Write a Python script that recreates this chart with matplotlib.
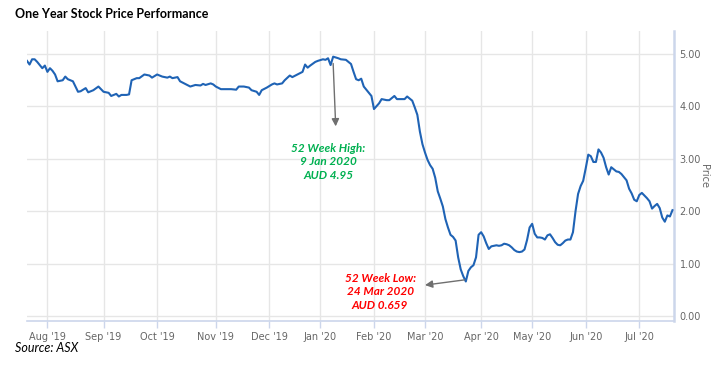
import numpy as np
import pandas as pd
import matplotlib.pyplot as plt

# ASX trading holidays inside the window (the x axis is ordinal: trading days only)
asx_holidays = ['2019-12-25', '2019-12-26', '2020-01-01', '2020-01-27',
                '2020-04-10', '2020-04-13', '2020-06-08']

dates = [
    '2019-07-22', '2019-07-23', '2019-07-24', '2019-07-25', '2019-07-26', '2019-07-29',
    '2019-07-30', '2019-07-31', '2019-08-01', '2019-08-02', '2019-08-05', '2019-08-06',
    '2019-08-07', '2019-08-09', '2019-08-12', '2019-08-13', '2019-08-15', '2019-08-16',
    '2019-08-19', '2019-08-20', '2019-08-22', '2019-08-23', '2019-08-27', '2019-08-29',
    '2019-08-30', '2019-09-02', '2019-09-04', '2019-09-05', '2019-09-09', '2019-09-10',
    '2019-09-11', '2019-09-13', '2019-09-16', '2019-09-17', '2019-09-19', '2019-09-20',
    '2019-09-24', '2019-09-26', '2019-09-27', '2019-10-01', '2019-10-03', '2019-10-07',
    '2019-10-08', '2019-10-09', '2019-10-11', '2019-10-14', '2019-10-16', '2019-10-18',
    '2019-10-22', '2019-10-24', '2019-10-25', '2019-10-28', '2019-10-30', '2019-10-31',
    '2019-11-01', '2019-11-05', '2019-11-07', '2019-11-11', '2019-11-13', '2019-11-14',
    '2019-11-18', '2019-11-20', '2019-11-21', '2019-11-25', '2019-11-26', '2019-11-27',
    '2019-11-29', '2019-12-03', '2019-12-04', '2019-12-05', '2019-12-09', '2019-12-10',
    '2019-12-12', '2019-12-13', '2019-12-17', '2019-12-19', '2019-12-20', '2019-12-23',
    '2019-12-24', '2019-12-30', '2019-12-31', '2020-01-03', '2020-01-06', '2020-01-07',
    '2020-01-08', '2020-01-09', '2020-01-13', '2020-01-14', '2020-01-16', '2020-01-20',
    '2020-01-21', '2020-01-22', '2020-01-23', '2020-01-24', '2020-01-28', '2020-01-30',
    '2020-01-31', '2020-02-03', '2020-02-05', '2020-02-06', '2020-02-10', '2020-02-11',
    '2020-02-13', '2020-02-14', '2020-02-17', '2020-02-19', '2020-02-20', '2020-02-24',
    '2020-02-25', '2020-02-26', '2020-02-27', '2020-02-28', '2020-03-02', '2020-03-03',
    '2020-03-04', '2020-03-05', '2020-03-06', '2020-03-09', '2020-03-10', '2020-03-11',
    '2020-03-12', '2020-03-13', '2020-03-16', '2020-03-17', '2020-03-18', '2020-03-19',
    '2020-03-20', '2020-03-23', '2020-03-24', '2020-03-25', '2020-03-26', '2020-03-27',
    '2020-03-30', '2020-03-31', '2020-04-01', '2020-04-02', '2020-04-03', '2020-04-06',
    '2020-04-07', '2020-04-08', '2020-04-09', '2020-04-14', '2020-04-15', '2020-04-16',
    '2020-04-17', '2020-04-20', '2020-04-21', '2020-04-22', '2020-04-23', '2020-04-24',
    '2020-04-27', '2020-04-28', '2020-04-29', '2020-04-30', '2020-05-01', '2020-05-04',
    '2020-05-05', '2020-05-06', '2020-05-07', '2020-05-08', '2020-05-11', '2020-05-12',
    '2020-05-13', '2020-05-14', '2020-05-15', '2020-05-18', '2020-05-19', '2020-05-20',
    '2020-05-21', '2020-05-22', '2020-05-25', '2020-05-26', '2020-05-27', '2020-05-28',
    '2020-05-29', '2020-06-01', '2020-06-02', '2020-06-03', '2020-06-04', '2020-06-05',
    '2020-06-09', '2020-06-10', '2020-06-11', '2020-06-12', '2020-06-15', '2020-06-16',
    '2020-06-17', '2020-06-18', '2020-06-19', '2020-06-22', '2020-06-23', '2020-06-24',
    '2020-06-25', '2020-06-26', '2020-06-29', '2020-06-30', '2020-07-01', '2020-07-02',
    '2020-07-03', '2020-07-06', '2020-07-07', '2020-07-08', '2020-07-09', '2020-07-10',
    '2020-07-13', '2020-07-14', '2020-07-15', '2020-07-16', '2020-07-17', '2020-07-20',
]

prices = [
    4.87, 4.80, 4.90, 4.90, 4.85, 4.79,
    4.73, 4.78, 4.66, 4.73, 4.68, 4.61,
    4.48, 4.50, 4.57, 4.52, 4.48, 4.38,
    4.28, 4.29, 4.35, 4.27, 4.31, 4.38,
    4.33, 4.28, 4.26, 4.20, 4.24, 4.19,
    4.22, 4.22, 4.23, 4.50, 4.54, 4.54,
    4.61, 4.59, 4.55, 4.61, 4.57, 4.55,
    4.57, 4.54, 4.56, 4.48, 4.43, 4.38,
    4.41, 4.40, 4.43, 4.41, 4.44, 4.42,
    4.38, 4.33, 4.33, 4.33, 4.32, 4.38,
    4.38, 4.36, 4.31, 4.28, 4.22, 4.31,
    4.36, 4.42, 4.44, 4.42, 4.44, 4.50,
    4.59, 4.56, 4.61, 4.66, 4.80, 4.74,
    4.78, 4.85, 4.87, 4.90, 4.89, 4.92,
    4.79, 4.95, 4.92, 4.90, 4.89, 4.81,
    4.66, 4.52, 4.50, 4.53, 4.38, 4.26,
    4.20, 3.95, 4.06, 4.14, 4.12, 4.12,
    4.20, 4.14, 4.14, 4.14, 4.19, 4.11,
    3.98, 3.84, 3.52, 3.28, 3.12, 2.98,
    2.88, 2.81, 2.64, 2.38, 2.24, 2.09,
    1.85, 1.69, 1.55, 1.51, 1.44, 1.12,
    0.89, 0.76, 0.659, 0.86, 0.93, 0.97,
    1.12, 1.55, 1.60, 1.52, 1.39, 1.28,
    1.33, 1.34, 1.35, 1.34, 1.35, 1.38,
    1.37, 1.35, 1.31, 1.26, 1.23, 1.22,
    1.23, 1.27, 1.45, 1.69, 1.76, 1.57,
    1.50, 1.50, 1.49, 1.46, 1.54, 1.56,
    1.49, 1.41, 1.36, 1.35, 1.39, 1.44,
    1.46, 1.46, 1.60, 2.00, 2.33, 2.48,
    2.58, 2.82, 3.08, 3.05, 2.94, 2.94,
    3.18, 3.12, 3.02, 2.84, 2.70, 2.84,
    2.80, 2.76, 2.75, 2.71, 2.65, 2.59,
    2.43, 2.34, 2.22, 2.19, 2.31, 2.35,
    2.30, 2.25, 2.19, 2.05, 2.10, 2.14,
    2.06, 1.88, 1.80, 1.92, 1.90, 2.02,
]

high_date, high_label = '2020-01-09', '52 Week High:\n9 Jan 2020\nAUD 4.95'
low_date, low_label = '2020-03-24', '52 Week Low:\n24 Mar 2020\nAUD 0.659'

y_ticks = [0, 1, 2, 3, 4, 5]

# ordinal x: number of trading days since the first date
d = np.array(dates, dtype='datetime64[D]')
start = d[0]
xpos = np.busday_count(start, d, holidays=asx_holidays)

months = np.arange('2019-08', '2020-08', dtype='datetime64[M]')
first_days = np.busday_offset(months.astype('datetime64[D]'), 0, roll='forward',
                              holidays=asx_holidays)
month_pos = np.busday_count(start, first_days, holidays=asx_holidays)
month_labels = [pd.Timestamp(m).strftime("%b '%y") for m in months]

def pos(day):
    return np.busday_count(start, np.datetime64(day), holidays=asx_holidays)

fig = plt.figure(figsize=(7.17, 3.80), dpi=100)
ax = fig.add_axes([27 / 717, 59 / 380, 647 / 717, 290 / 380])

ax.plot(xpos, prices, color='#1f63b5', lw=1.5, solid_joinstyle='round', zorder=3)

ax.set_xlim(0, xpos[-1] + 0.6)
ax.set_ylim(-0.095, 5.44)

ax.set_xticks(month_pos)
ax.set_xticklabels(month_labels)
ax.set_yticks(y_ticks)
ax.set_yticklabels([f'{v:.2f}' for v in y_ticks])
ax.yaxis.tick_right()
ax.yaxis.set_label_position('right')
ax.set_ylabel('Price', rotation=270, color='#666666', fontsize=7, labelpad=6)

ax.grid(color='#e6e6e6', lw=1)
ax.set_axisbelow(True)
ax.tick_params(axis='x', length=5, width=1, color='#ccd6eb', pad=3,
               labelcolor='#666666', labelsize=7)
ax.tick_params(axis='y', length=0, pad=4, labelcolor='#666666', labelsize=7)
for side in ['top', 'left']:
    ax.spines[side].set_visible(False)
ax.spines['right'].set_color('#ccd6eb')
ax.spines['right'].set_linewidth(1.8)
ax.spines['bottom'].set_color('#ccd6eb')
ax.spines['bottom'].set_linewidth(1.2)

# annotations
hx = pos(high_date)
lx = pos(low_date)
arrow = dict(arrowstyle='-|>', color='#6f6f6f', lw=1, mutation_scale=11,
             shrinkA=0, shrinkB=0)
ax.annotate('', xy=(hx + 1, 3.62), xytext=(hx, 4.82), arrowprops=arrow)
ax.text(hx - 2, 2.94, high_label, color='#00b050', fontsize=8.5, fontweight='bold',
        style='italic', family='Lato', ha='center', va='center', linespacing=1.3)
ax.annotate('', xy=(lx - 16, 0.59), xytext=(lx - 0.5, 0.69), arrowprops=arrow)
ax.text(lx - 33.6, 0.46, low_label, color='#ff0000', fontsize=8.5, fontweight='bold',
        style='italic', family='Lato', ha='center', va='center', linespacing=1.3)

fig.text(15 / 717, 1 - 14 / 380, 'One Year Stock Price Performance', fontsize=9,
         fontweight='bold', family='Lato', va='center')
fig.text(15 / 717, 1 - 348 / 380, 'Source: ASX', fontsize=9, style='italic',
         family='Lato', va='center')

fig.savefig('out.png', dpi=100)
